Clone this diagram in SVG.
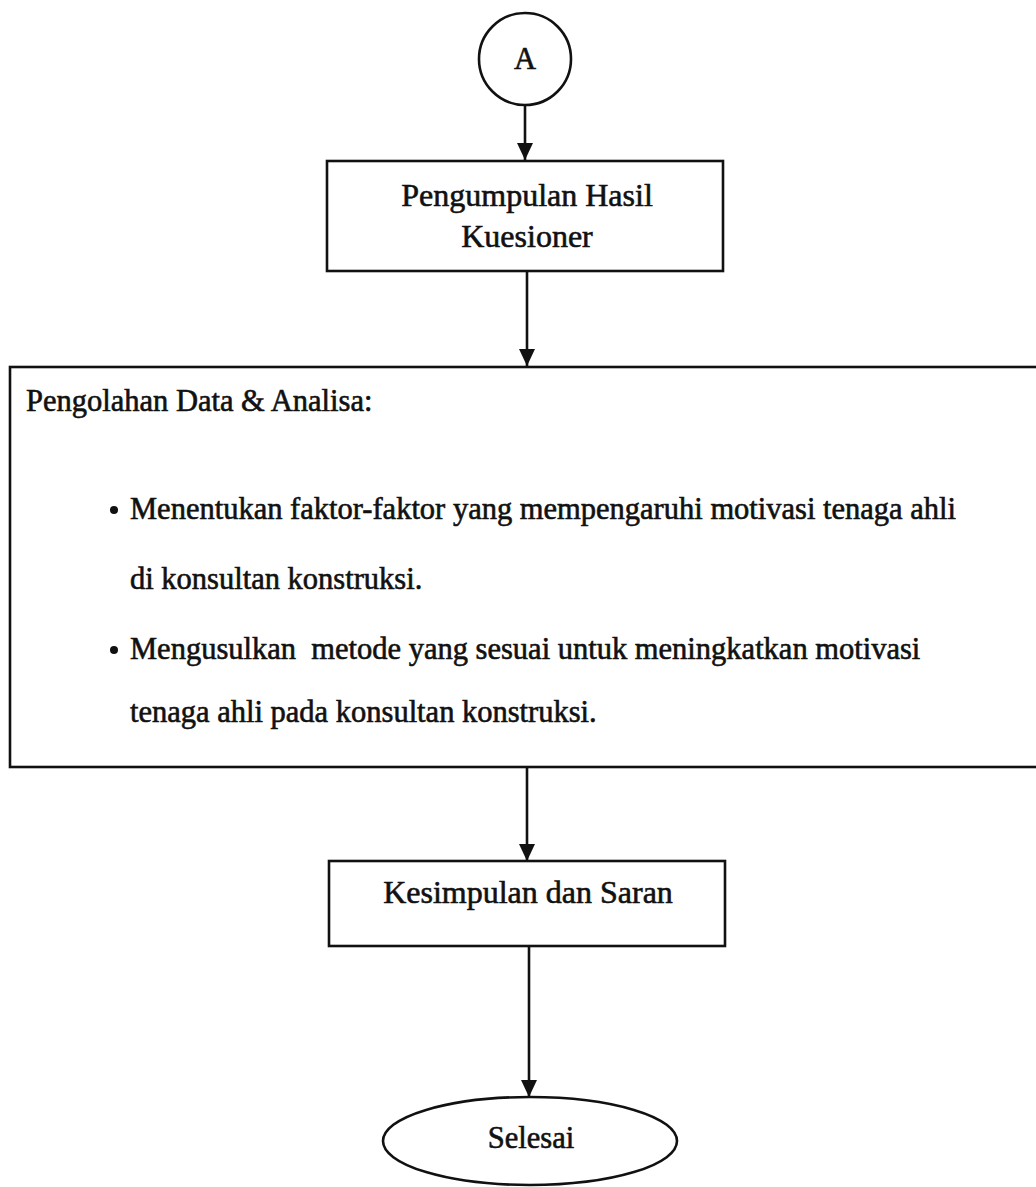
<svg xmlns="http://www.w3.org/2000/svg" width="1036" height="1187" viewBox="0 0 1036 1187">
<style>
.shape{fill:#fff;stroke:#111;stroke-width:2.6}
.t{font-family:"Liberation Serif","Times New Roman",serif;font-size:30.5px;fill:#111;stroke:#111;stroke-width:0.6}
.big{font-size:32px}
.c{text-anchor:middle}
.conn{stroke:#111;stroke-width:2.6;fill:none}
</style>
<defs>
<marker id="arr" markerUnits="userSpaceOnUse" markerWidth="18" markerHeight="16" refX="17" refY="8" orient="auto" viewBox="0 0 18 16">
<path d="M0,0 L17,8 L0,16 Z" fill="#111"/>
</marker>
</defs>
<rect width="1036" height="1187" fill="#fff"/>
<g id="connectors">
<line class="conn" x1="525" y1="106" x2="525" y2="160" marker-end="url(#arr)"/>
<line class="conn" x1="527" y1="271" x2="527" y2="366" marker-end="url(#arr)"/>
<line class="conn" x1="527" y1="767" x2="527" y2="861" marker-end="url(#arr)"/>
<line class="conn" x1="529" y1="946" x2="529" y2="1097" marker-end="url(#arr)"/>
</g>
<g id="node-a">
<circle class="shape" cx="525" cy="59" r="46"/>
<text class="t c" x="525" y="69">A</text>
</g>
<g id="node-pengumpulan">
<rect class="shape" x="327" y="161" width="396" height="110"/>
<text class="t big c" x="527" y="206">Pengumpulan Hasil</text>
<text class="t big c" x="527" y="247">Kuesioner</text>
</g>
<g id="node-pengolahan">
<rect class="shape" x="10" y="367" width="1032" height="400"/>
<text class="t" x="26" y="411">Pengolahan Data &amp; Analisa:</text>
<circle cx="114" cy="510" r="4" fill="#111"/>
<text class="t" x="130" y="519">Menentukan faktor-faktor yang mempengaruhi motivasi tenaga ahli</text>
<text class="t" x="130" y="589">di konsultan konstruksi.</text>
<circle cx="114" cy="650" r="4" fill="#111"/>
<text class="t" x="130" y="659">Mengusulkan&#160; metode yang sesuai untuk meningkatkan motivasi</text>
<text class="t" x="130" y="722">tenaga ahli pada konsultan konstruksi.</text>
</g>
<g id="node-kesimpulan">
<rect class="shape" x="329" y="861" width="396" height="85"/>
<text class="t big c" x="528" y="903">Kesimpulan dan Saran</text>
</g>
<g id="node-selesai">
<ellipse class="shape" cx="530" cy="1141" rx="147" ry="44"/>
<text class="t c" x="531" y="1148">Selesai</text>
</g>
</svg>
